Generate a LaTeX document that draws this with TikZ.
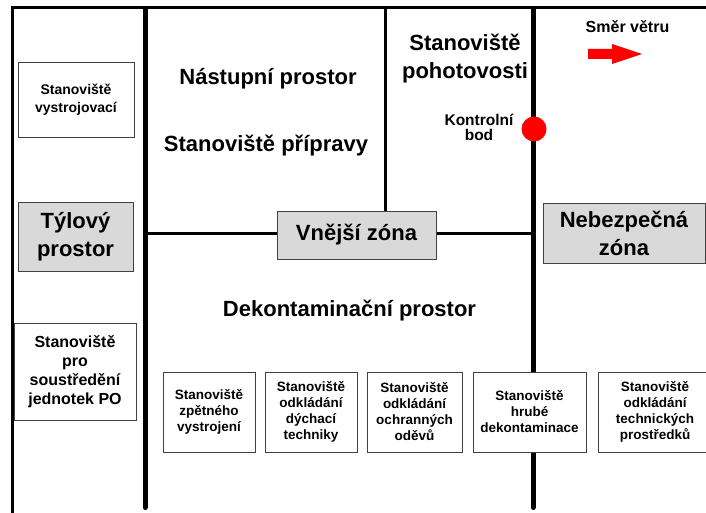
\documentclass[tikz,border=0pt]{standalone}
\usepackage{fontspec}
\setmainfont{Liberation Sans}
\pgfdeclarelayer{background}
\pgfsetlayers{background,main}
\tikzstyle{station}=[draw=black!75,fill=white,align=center,inner sep=0pt,font=\fontsize{13.5}{16}\selectfont\bfseries]
\tikzstyle{zone}=[station,fill=black!15,font=\fontsize{22}{28}\selectfont\bfseries]
\tikzstyle{title}=[align=center,inner sep=0pt,font=\fontsize{22}{28}\selectfont\bfseries]
\tikzstyle{thick border} = [draw,line width=5pt,-,line cap=round]
\tikzstyle{thin border} = [draw,line width=3pt,-]

\begin{document}
\begin{tikzpicture}[x=1pt,y=-1pt]
    \useasboundingbox (0,0) rectangle (706,513);
    % rear area
    \node[station,minimum width=116pt,minimum height=75pt,font=\fontsize{14}{18}\selectfont\bfseries]
        (vystroj) at (76,99.5) {Stanoviště\\vystrojovací};
    \node[zone,minimum width=115pt,minimum height=69pt] (tyl) at (75.5,236.5) {Týlový\\prostor};
    \node[station,minimum width=122pt,minimum height=97pt,font=\fontsize{16}{19}\selectfont\bfseries]
        (soustred) at (75,371.5) {Stanoviště\\pro\\soustředění\\jednotek PO};

    % zones
    \node[zone,minimum width=159pt,minimum height=48pt] (vnejsi) at (356.5,235) {Vnější zóna};
    \node[zone,minimum width=162pt,minimum height=60pt] (nebezpecna) at (624,233) {Nebezpečná\\zóna};

    \node[title] (nastup) at (268,79) {Nástupní prostor};
    \node[title] (priprava) at (266,146) {Stanoviště přípravy};
    \node[title] (pohotovost) at (465,59) {Stanoviště\\pohotovosti};
    \node[title] (dekont) at (349.5,311) {Dekontaminační prostor};
    \node[title,font=\fontsize{15.5}{15}\selectfont\bfseries] (kontrola) at (479,127) {Kontrolní\\bod};
    \node[title,font=\fontsize{16}{19}\selectfont\bfseries] (smer) at (627.5,27) {Směr větru};
    \node[circle,fill=red,minimum size=25pt,inner sep=0pt] (bod) at (534,129) {};
    \fill[red] (588,49) -- (612,49) -- (612,44) -- (642,54) -- (612,64) -- (612,59) -- (588,59) -- cycle;

    % decontamination line
    \foreach \pos/\boxw/\name/\txt in {209/92/zpet/{Stanoviště\\zpětného\\vystrojení},
                                     311/92/dychaci/{Stanoviště\\odkládání\\dýchací\\techniky},
                                     414.5/95/odevy/{Stanoviště\\odkládání\\ochranných\\oděvů},
                                     529.5/113/hrube/{Stanoviště\\hrubé\\dekontaminace},
                                     655/114/technika/{Stanoviště\\odkládání\\technických\\prostředků}}
        \node[station,minimum width=\boxw pt,minimum height=80pt] (\name) at (\pos,412) {\txt};

    \coordinate (nw) at (12,8);
    \coordinate (ne) at (706,8);
    \coordinate (sw) at (12,513);
    \coordinate (rear top) at (145,9);
    \coordinate (rear end) at (145,507.5);
    \coordinate (hot top) at (533,9);
    \coordinate (hot end) at (533,507.5);
    \coordinate (mid top) at (385,8);
    \coordinate (mid end) at (385,233);
    \coordinate (cross w) at (145,233);
    \coordinate (cross e) at (533,233);

    \begin{pgfonlayer}{background}
        \path[thin border] (sw) -- (nw) -- (ne);
        \foreach \source/\dest in {rear top/rear end, hot top/hot end}
            \path[thick border] (\source) -- (\dest);
        \foreach \source/\dest in {mid top/mid end, cross w/cross e}
            \path[thin border] (\source) -- (\dest);
    \end{pgfonlayer}
\end{tikzpicture}
\end{document}
